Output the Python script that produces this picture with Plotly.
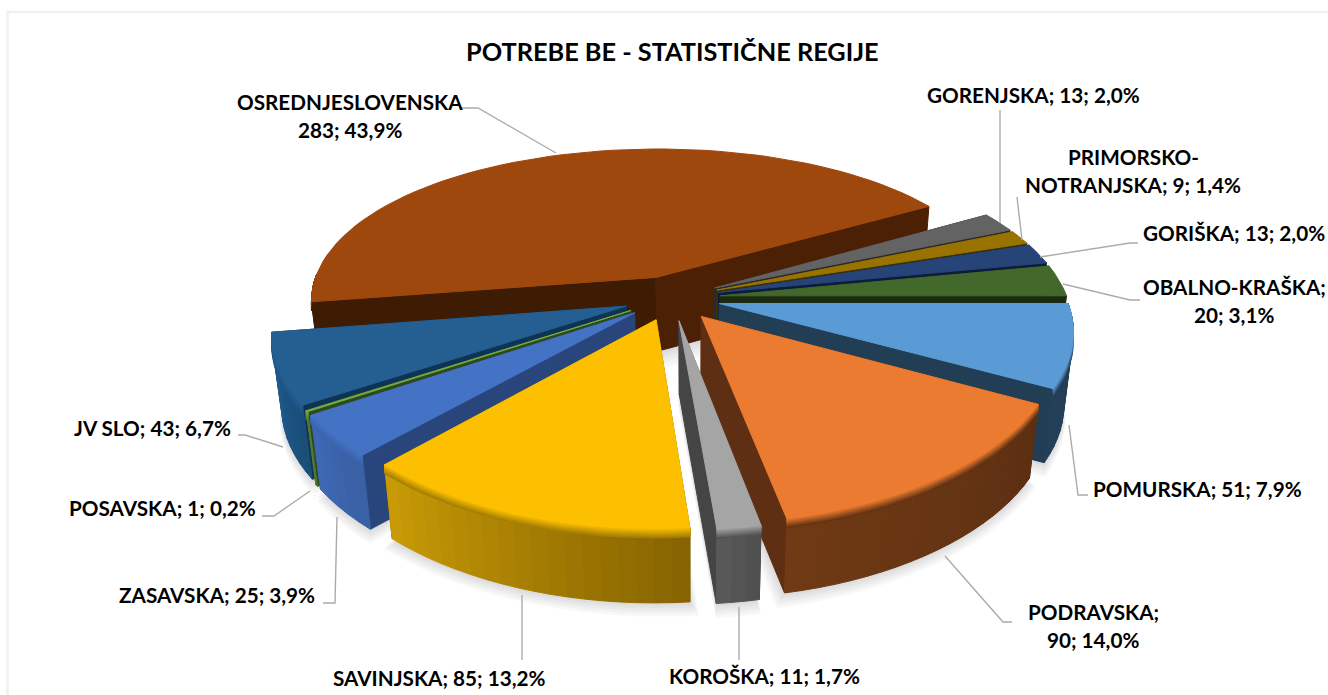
import math
import plotly.graph_objects as go

# ---------- data ----------
REGIONS = ["POMURSKA", "PODRAVSKA", "KOROŠKA", "SAVINJSKA", "ZASAVSKA", "POSAVSKA", "JV SLO",
           "OSREDNJESLOVENSKA", "GORENJSKA", "PRIMORSKO-NOTRANJSKA", "GORIŠKA", "OBALNO-KRAŠKA"]
VALUES = [51, 90, 11, 85, 25, 1, 43, 283, 13, 9, 13, 20]
TITLE = "POTREBE BE - STATISTIČNE REGIJE"

# ---------- style ----------
TOP = ["#5B9BD5", "#EA7B30", "#A5A5A5", "#FCC000", "#4472C4", "#70AD47", "#255E91", "#9E480E",
       "#636363", "#997300", "#264478", "#43682B"]
SIDE_START = ["#223E55", "#5E2F12", "#454545", "#7A5C00", "#29467C", "#2E4A1C", "#0E3355", "#3E1B03",
              "#2A2A2A", "#3E2F00", "#0D1C3C", "#1A2B11"]
SIDE_END = ["#223E55", "#5E2F12", "#454545", "#7A5C00", "#29467C", "#2E4A1C", "#0E3355", "#4C2005",
            "#2A2A2A", "#3E2F00", "#0D1C3C", "#1A2B11"]
RIM_A = ["#233F58", "#5C2F12", "#4E4E4E", "#856300", "#395FA3", "#4F7A30", "#1A4D78", "#3E1B03",
         "#3A3A3A", "#4A3800", "#152A50", "#263C18"]
RIM_B = ["#233F58", "#6F3A14", "#5A5A5A", "#C99B06", "#3F69B5", "#4F7A30", "#1F5C90", "#3E1B03",
         "#3A3A3A", "#4A3800", "#152A50", "#263C18"]
LABEL_POS = [(1197, 489), (1093, 612), (764, 676), (439, 678), (217, 595), (162, 508), (152, 428),
             (350, 102), (1033, 95), (1133, 157), (1234, 233), (1234, 287)]
BREAK_AFTER_NAME = {"OSREDNJESLOVENSKA": ("", ""), "PODRAVSKA": (";", ""), "OBALNO-KRAŠKA": (";", "")}
LEADERS = [
    [(1069, 425), (1078, 495), (1088, 495)],
    [(945, 556), (1003, 622), (1012, 622)],
    [(739, 607), (739, 660)],
    [(522, 595), (522, 660)],
    [(337, 517), (335, 603), (323, 603)],
    [(310, 491), (274, 516), (262, 516)],
    [(283, 447), (245, 435), (238, 435)],
    [(462, 108), (478, 108), (556, 153)],
    [(1000, 110), (1000, 223)],
    [(1017, 197), (1022, 240)],
    [(1040, 257), (1130, 243), (1138, 243)],
    [(1063, 284), (1130, 300), (1140, 300)],
]
CX, CY, RX, RY, PERSP_X, PERSP_Y = 672, 298, 347, 160, 0.15, 0.19
EXPLODE, DEPTH = 0.14, 74
FONT = "Lato"
FS = 20.7
LH = 28


def proj(px, py):
    return CX + RX * px / (1 + PERSP_X * py), CY - RY * py / (1 + PERSP_Y * py)


def lower(p):
    return 690 + (p[0] - 690) * 0.975, p[1] + DEPTH


def rgb(h):
    return [int(h[i:i + 2], 16) for i in (1, 3, 5)]


def mix(a, b, t):
    ca, cb = rgb(a), rgb(b)
    return "#%02X%02X%02X" % tuple(round(x + (y - x) * t) for x, y in zip(ca, cb))


fig = go.Figure()


def poly(pts, color, line=True):
    pts = list(pts)
    fig.add_trace(go.Scatter(
        x=[p[0] for p in pts] + [pts[0][0]], y=[p[1] for p in pts] + [pts[0][1]],
        mode="lines", fill="toself", fillcolor=color,
        line=dict(color=color if line else "rgba(0,0,0,0)", width=1 if line else 0),
        hoverinfo="skip", showlegend=False))


total = sum(VALUES)
slices = []
a = 90.0
for i, v in enumerate(VALUES):
    span = v / total * 360
    a0, a1 = a, a + span
    a = a1
    mid = math.radians((a0 + a1) / 2)
    ox, oy = EXPLODE * math.sin(mid), EXPLODE * math.cos(mid)
    n = max(3, int(span / 2.5))
    arc, front = [], []
    for j in range(n + 1):
        t = math.radians(a0 + (a1 - a0) * j / n)
        arc.append(proj(ox + math.sin(t), oy + math.cos(t)))
        front.append(math.cos(t) < 0.02)
    slices.append(dict(i=i, apex=proj(ox, oy), arc=arc, front=front, depth=math.cos(mid)))

# soft shadow
for s in slices:
    base = [lower(s["apex"])] + [lower(p) for p in s["arc"]]
    mx = sum(p[0] for p in base) / len(base)
    my = sum(p[1] for p in base) / len(base)
    for k in range(1, 6):
        f = 1 + 0.012 * k
        poly([(mx + (p[0] - mx) * f, my + (p[1] - my) * f + 2.4 * k) for p in base],
             "rgba(0,0,0,0.028)", line=False)

for s in sorted(slices, key=lambda d: -d["depth"]):
    i, apex, arc, front = s["i"], s["apex"], s["arc"], s["front"]
    # cut faces
    poly([apex, arc[0], lower(arc[0]), lower(apex)], SIDE_START[i])
    poly([apex, arc[-1], lower(arc[-1]), lower(apex)], SIDE_END[i])
    # outer wall with a gradient along the arc (front-facing part only)
    steps = len(arc) - 1
    for j in range(steps):
        if front[j] and front[j + 1]:
            c = mix(RIM_A[i], RIM_B[i], ((j + 0.5) / steps))
            poly([arc[j], arc[j + 1], lower(arc[j + 1]), lower(arc[j])], c)
    # bevel between top face and wall
    vis = [p for p, f in zip(arc, front) if f]
    if len(vis) > 1:
        for k in range(5, 0, -1):
            off = 9 * k / 5
            c = mix(TOP[i], mix(RIM_A[i], RIM_B[i], 0.5), k / 5)
            poly(vis + [(p[0], p[1] + off) for p in reversed(vis)], c)
    poly([apex] + list(arc), TOP[i])

shapes = [dict(type="path", line=dict(color="#ABABAB", width=1.4),
               path="M" + " L".join(f"{x},{y}" for x, y in pts)) for pts in LEADERS]
for pts in ([(7.5, 695), (7.5, 12), (1328, 12)],):
    shapes.append(dict(type="path", line=dict(color="#F1F1F1", width=2.5),
                       path="M" + " L".join(f"{x},{y}" for x, y in pts)))

annotations = [dict(x=672, y=51, text=f"<b>{TITLE}</b>", showarrow=False, xanchor="center",
                    yanchor="middle", font=dict(family=FONT, size=25.3, color="#000000"))]
for name, val, (lx, ly) in zip(REGIONS, VALUES, LABEL_POS):
    pct = f"{val / total * 100:.1f}%".replace(".", ",")
    if name == "PRIMORSKO-NOTRANJSKA":
        lines = ["PRIMORSKO-", f"NOTRANJSKA; {val}; {pct}"]
    elif name in BREAK_AFTER_NAME:
        sep = BREAK_AFTER_NAME[name][0]
        lines = [name + sep, f"{val}; {pct}"]
    else:
        lines = [f"{name}; {val}; {pct}"]
    for k, line in enumerate(lines):
        annotations.append(dict(x=lx, y=ly + k * LH, text=f"<b>{line}</b>", showarrow=False,
                                xanchor="center", yanchor="middle",
                                font=dict(family=FONT, size=FS, color="#000000")))

fig.update_layout(
    width=1328, height=695, margin=dict(l=0, r=0, t=0, b=0),
    paper_bgcolor="white", plot_bgcolor="white", showlegend=False,
    xaxis=dict(range=[0, 1328], visible=False, fixedrange=True),
    yaxis=dict(range=[695, 0], visible=False, fixedrange=True),
    shapes=shapes, annotations=annotations)

fig.write_html("out.html", config={"displayModeBar": False},
               post_script="document.body.style.margin='0';document.documentElement.style.overflow='hidden';")
